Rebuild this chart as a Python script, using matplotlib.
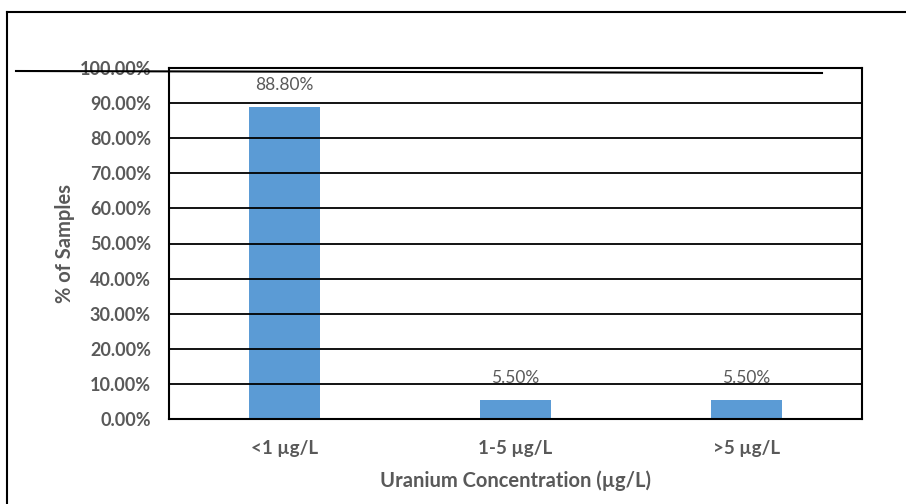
import matplotlib
matplotlib.use("Agg")
import matplotlib.pyplot as plt
from matplotlib.lines import Line2D
import numpy as np

categories = ["<1 µg/L", "1-5 µg/L", ">5 µg/L"]
percent = [88.80, 5.50, 5.50]
yticks = [0, 10, 20, 30, 40, 50, 60, 70, 80, 90, 100]

BAR = "#5B9BD5"
GRAY = "#595959"
FONT = ["Lato", "DejaVu Sans"]

W, H = 906, 504
fig = plt.figure(figsize=(W / 100, H / 100), dpi=100)

# plot area in pixel coordinates
left, right, top, bottom = 169, 862, 68, 419
ax = fig.add_axes([left / W, 1 - bottom / H, (right - left) / W, (bottom - top) / H])

x = np.arange(len(categories))
ax.bar(x, percent, width=0.31, color=BAR, zorder=2)
ax.set_xlim(-0.5, len(categories) - 0.5)
ax.set_ylim(0, 100)

ax.set_yticks(yticks)
ax.set_yticklabels([f"{v:.2f}%" for v in yticks], fontsize=13, fontweight="bold",
                   color=GRAY, family=FONT)
ax.set_xticks(x)
ax.set_xticklabels(categories, fontsize=13.5, fontweight="bold", color=GRAY, family=FONT)
ax.tick_params(axis="both", length=0)
ax.tick_params(axis="y", pad=13)
ax.tick_params(axis="x", pad=15)

ax.grid(axis="y", color="black", linewidth=1.3, zorder=3)
ax.set_axisbelow(False)
for s in ax.spines.values():
    s.set_color("black")
    s.set_linewidth(1.5)
    s.set_zorder(4)

for xi, v in zip(x, percent):
    ax.annotate(f"{v:.2f}%", (xi, v), xytext=(0, 10), textcoords="offset points",
                ha="center", va="bottom", fontsize=12.5, color=GRAY, family=FONT, zorder=1)

ax.set_ylabel("% of Samples", fontsize=14.5, fontweight="bold", color=GRAY, family=FONT,
              labelpad=3)
ax.set_xlabel("Uranium Concentration (µg/L)", fontsize=14.5, fontweight="bold", color=GRAY,
              family=FONT, labelpad=10)

# outer frame lines and the long rule across the top of the plot
def px(xp, yp):
    return xp / W, 1 - yp / H

fig.add_artist(Line2D(*zip(px(7, 12), px(906, 12)), color="black", linewidth=1.5))
fig.add_artist(Line2D(*zip(px(7, 12), px(7, 504)), color="black", linewidth=1.5))
fig.add_artist(Line2D(*zip(px(16, 71), px(822, 73)), color="black", linewidth=1.5))

fig.savefig("out.png", dpi=100)
